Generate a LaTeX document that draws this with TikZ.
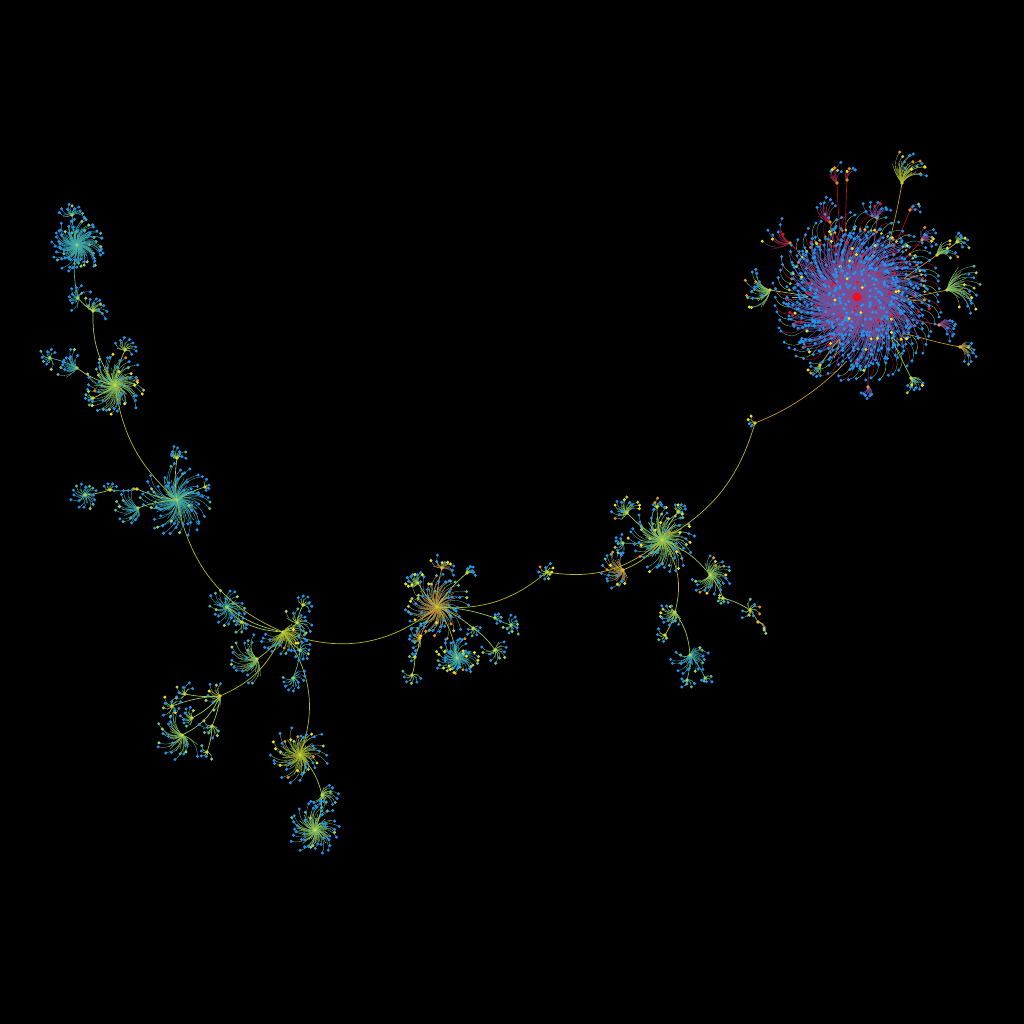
\documentclass[tikz,border=0pt]{standalone}
\definecolor{tipblue}{HTML}{1C96F0}
\definecolor{tipyellow}{HTML}{F4E410}
\definecolor{tiplime}{HTML}{A8D060}
\definecolor{tipteal}{HTML}{58B898}
\definecolor{tipred}{HTML}{EE1020}
\definecolor{tiporange}{HTML}{F09010}
\definecolor{teal}{HTML}{48B0A0}
\definecolor{lime}{HTML}{98C850}
\definecolor{gold}{HTML}{B8B818}
\definecolor{amber}{HTML}{C89030}
\definecolor{plum}{HTML}{9C3C80}
\definecolor{mauve}{HTML}{84488E}
\definecolor{crim}{HTML}{B80C24}
\pgfmathdeclarerandomlist{cool}{{tipblue}{tipblue}{tipblue}{tipblue}{tipblue}{tipblue}{tipblue}{tipblue}{tipteal}{tipteal}{tiplime}}
\pgfmathdeclarerandomlist{warm}{{tipblue}{tipblue}{tipblue}{tipblue}{tipblue}{tipblue}{tipblue}{tipteal}{tiplime}{tipyellow}{tipyellow}{tiporange}}
\pgfmathdeclarerandomlist{hot}{{tipblue}{tipblue}{tipblue}{tipblue}{tipblue}{tipblue}{tipblue}{tipblue}{tipblue}{tipblue}{tipblue}{tipblue}{tipblue}{tipblue}{tipblue}{tipblue}{tipblue}{tipblue}{tipred}{tipred}{tipyellow}}
\tikzset{
  spoke/.style={line width=.38pt},
  link/.style={line width=.7pt},
}
\newcommand{\burst}[8]{% pass, name, leaves, radius, colour, tones, direction, spread
  \foreach \i in {1,...,#3} {
    \pgfmathsetmacro{\ang}{#7-#8/2+#8*(\i/#3)+5*rnd}
    \pgfmathsetmacro{\rad}{#4*(.3+.7*rnd^.6)}
    \pgfmathsetmacro{\cut}{.45*\rad}
    \pgfmathrandomitem{\tone}{#6}
    \path (#2) ++(\ang:\rad) coordinate (tipend);
    \ifnum#1=0
      \draw[spoke, #5!55!tipblue] (#2) to[bend left=38] (tipend);
      \draw[spoke, #5, shorten >=\cut pt] (#2) to[bend left=38] (tipend);
    \else \fill[\tone] (tipend) circle (1.65); \fi
  }
  \ifnum#1=1 \fill[#5!40!tipyellow] (#2) circle (1.8); \fi
}
% hubs: name/x/y/leaves/radius/colour/tones/direction/spread
\newcommand{\hublist}{
  core/857/297/560/74/mauve/hot/0/360,
  inner/857/297/60/26/mauve/hot/0/360,
  coreW/770/290/16/28/lime/warm/180/110,
  coreA/937/255/8/22/lime/warm/-25/70,
  coreB/957/242/8/14/lime/warm/-30/140,
  coreC/947/290/16/37/lime/warm/0/100,
  coreD/960/347/10/20/amber/warm/20/100,
  coreE/939/325/10/20/plum/hot/10/90,
  coreF/922/240/10/16/plum/warm/-30/120,
  coreG/902/183/16/32/gold/warm/-60/80,
  coreH/837/183/6/22/crim/warm/-100/60,
  coreI/847/180/4/15/crim/warm/-80/50,
  coreJ/877/218/10/20/plum/hot/-90/120,
  coreK/790/243/8/28/crim/hot/210/80,
  coreL/830/222/8/25/crim/hot/-110/70,
  coreM/911/378/10/16/lime/warm/60/100,
  coreN/868/387/6/12/plum/hot/90/90,
  coreO/820/365/5/14/lime/warm/130/80,
  coreP/910/210/5/12/crim/warm/-30/80,
  joint/755/423/4/9/gold/warm/170/140,
  eastA/662/540/62/34/lime/warm/0/360,
  eastB/627/513/14/16/lime/warm/-120/200,
  eastC/623/543/8/11/teal/cool/170/180,
  eastD/623/570/20/22/amber/warm/170/200,
  eastE/710/575/24/23/lime/warm/30/270,
  eastF/723/598/5/7/lime/cool/90/180,
  eastG/750/610/8/11/lime/warm/20/300,
  eastH/758/622/4/14/amber/warm/45/20,
  eastI/657/507/6/9/lime/warm/-90/180,
  eastJ/678/512/8/10/lime/warm/-45/180,
  eastK/675/612/14/16/lime/warm/150/180,
  eastL/665/635/5/9/lime/warm/120/200,
  eastM/690/655/18/20/teal/cool/70/240,
  eastN/687/680/6/10/teal/cool/90/200,
  eastO/705/678/5/8/teal/cool/45/200,
  bridge/547/572/10/10/lime/warm/0/360,
  midA/437/607/62/34/amber/warm/0/360,
  midB/442/568/10/14/amber/warm/-70/200,
  midC/420/638/12/14/amber/cool/190/200,
  midD/415/657/4/8/lime/cool/180/200,
  midE/412/675/6/11/lime/cool/90/220,
  midF/457/658/45/22/teal/warm/0/360,
  midG/473/628/6/9/lime/cool/60/200,
  midH/495/650/10/14/lime/warm/60/260,
  midI/495/618/5/7/teal/cool/-30/200,
  midJ/511/625/10/12/teal/cool/20/280,
  midK/418/583/10/13/lime/warm/-140/150,
  midL/467/573/6/9/lime/cool/-45/120,
  southA/283/632/26/24/gold/warm/70/200,
  southB/297/623/10/16/lime/cool/-40/240,
  southC/303/605/6/10/lime/cool/-60/200,
  southD/227/607/22/20/teal/cool/180/360,
  southE/242/622/8/12/lime/cool/120/260,
  southF/257/659/18/28/lime/cool/175/170,
  southG/293/678/10/14/teal/cool/60/240,
  southH/300/650/8/12/teal/cool/20/200,
  southI/220/696/8/16/gold/warm/180/180,
  southJ/172/706/9/13/lime/warm/180/300,
  southK/185/694/6/12/lime/cool/220/200,
  southL/192/718/8/12/lime/cool/190/180,
  southM/212/726/8/13/lime/cool/110/200,
  southN/207/752/5/9/lime/cool/120/220,
  southO/182/735/20/27/lime/cool/150/220,
  southP/300/755/42/31/gold/warm/90/360,
  southQ/322/795/14/18/lime/cool/40/220,
  southR/315/830/45/27/lime/cool/90/360,
  westA/177/500/62/37/teal/cool/0/360,
  westB/177/458/10/13/lime/cool/-90/180,
  westC/85/495/16/15/teal/cool/0/360,
  westD/138/508/14/23/teal/cool/170/160,
  westI/110/490/5/8/lime/warm/-90/200,
  westJ/137/489/1/4/lime/warm/0/360,
  westK/205/487/4/8/lime/cool/-30/200,
  westE/115/385/55/31/lime/warm/0/360,
  westF/77/368/12/21/teal/cool/-150/120,
  westL/50/358/8/12/teal/cool/180/260,
  westM/125/350/8/13/lime/cool/-70/200,
  westN/93/398/5/10/lime/cool/160/140,
  westG/93/311/12/15/lime/cool/-60/180,
  westO/78/298/10/14/teal/cool/-150/240,
  westH/77/245/70/28/teal/cool/0/360,
  westP/72/215/10/14/teal/cool/-90/200%
}
\newcommand{\sweep}[1]{
  \pgfmathsetseed{4242}
  \foreach \name/\x/\y/\n/\r/\col/\tones/\d/\s in \hublist {
    \coordinate (\name) at (\x,\y);
    \burst{#1}{\name}{\n}{\r}{\col}{\tones}{\d}{\s}
  }
  % fringe of short arcs round the core
  \foreach \i in {1,...,72} {
    \pgfmathsetmacro{\ang}{\i*5+3*rnd}
    \pgfmathsetmacro{\far}{80+7*rnd}
    \pgfmathparse{mod(\i,3)==0 ? "crim" : (mod(\i,3)==1 ? "lime" : "teal")}
    \edef\tint{\pgfmathresult}
    \path (core) ++(\ang:68) coordinate (rimstart) (core) ++(\ang+8:\far) coordinate (rimend);
    \ifnum#1=0
      \draw[spoke, mauve] (core) -- (rimstart);
      \draw[spoke, \tint] (rimstart) to[bend left=40] (rimend);
    \else
      \fill[tipblue] (rimend) circle (1.65);
      \ifnum\i>36 \fill[\tint!50!tipyellow] (rimstart) circle (1.5); \fi
    \fi
  }
}
\begin{document}
\begin{tikzpicture}[x=1pt, y=-1pt]
\fill[black] (0,0) rectangle (1024,1024);
\path[use as bounding box] (0,0) rectangle (1024,1024);
\sweep{0}
\foreach \from/\to/\b/\col in {
  joint/eastA/22/gold, eastA/bridge/25/gold,
  bridge/midA/22/gold, midA/southA/30/gold, southA/westA/28/gold,
  westA/westE/20/gold, westE/westG/18/lime, westG/westO/10/lime, westO/westH/12/teal,
  westH/westP/6/teal,
  westA/westD/-8/lime, westA/westJ/8/lime, westJ/westI/10/lime, westI/westC/5/lime,
  westA/westB/8/lime, westA/westK/8/lime, westE/westF/12/lime, westF/westL/-8/teal,
  westE/westM/8/lime, westE/westN/8/lime,
  southA/southI/22/gold, southI/southO/20/lime, southI/southJ/-8/lime,
  southI/southK/8/lime, southI/southL/10/lime, southI/southM/8/lime, southM/southN/8/lime,
  southA/southP/28/gold, southP/southQ/15/lime, southQ/southR/10/lime,
  southA/southD/12/lime, southD/southE/-10/lime, southA/southE/10/lime,
  southA/southB/-12/lime, southB/southC/8/lime, southA/southF/12/lime,
  southA/southH/-8/lime, southH/southG/8/teal,
  midA/midB/8/amber, midA/midC/-10/amber, midC/midD/8/lime, midD/midE/8/lime,
  midA/midF/12/gold, midA/midG/10/lime, midG/midH/10/lime, midA/midI/8/lime,
  midI/midJ/-8/teal, midA/midK/8/lime, midA/midL/8/lime,
  eastA/eastB/8/lime, eastA/eastC/8/teal, eastA/eastD/15/gold, eastA/eastI/8/lime,
  eastA/eastJ/8/lime, eastA/eastE/15/lime, eastE/eastF/8/lime, eastF/eastG/8/lime,
  eastG/eastH/5/amber, eastA/eastK/25/gold, eastK/eastL/8/lime, eastK/eastM/15/lime,
  eastM/eastN/8/teal, eastM/eastO/8/teal, coreA/coreB/-8/lime%
} {
  \draw[link, \col] (\from) to[bend left=\b] (\to);
}
% links out of the core only show beyond its rim
\foreach \to/\b/\col in {
  joint/30/amber, coreW/5/lime, coreA/-8/amber, coreC/-8/amber,
  coreD/-15/amber, coreE/-8/plum, coreF/-8/crim, coreG/-12/amber,
  coreH/8/crim, coreI/8/crim, coreJ/-8/plum, coreK/8/crim,
  coreL/8/crim, coreM/8/lime, coreN/8/plum, coreO/8/amber, coreP/-10/crim%
} {
  \draw[link, \col, shorten <=65pt] (core) to[bend left=\b] (\to);
}
\sweep{1}
\fill[tipred] (core) circle (4.5);
\end{tikzpicture}
\end{document}
